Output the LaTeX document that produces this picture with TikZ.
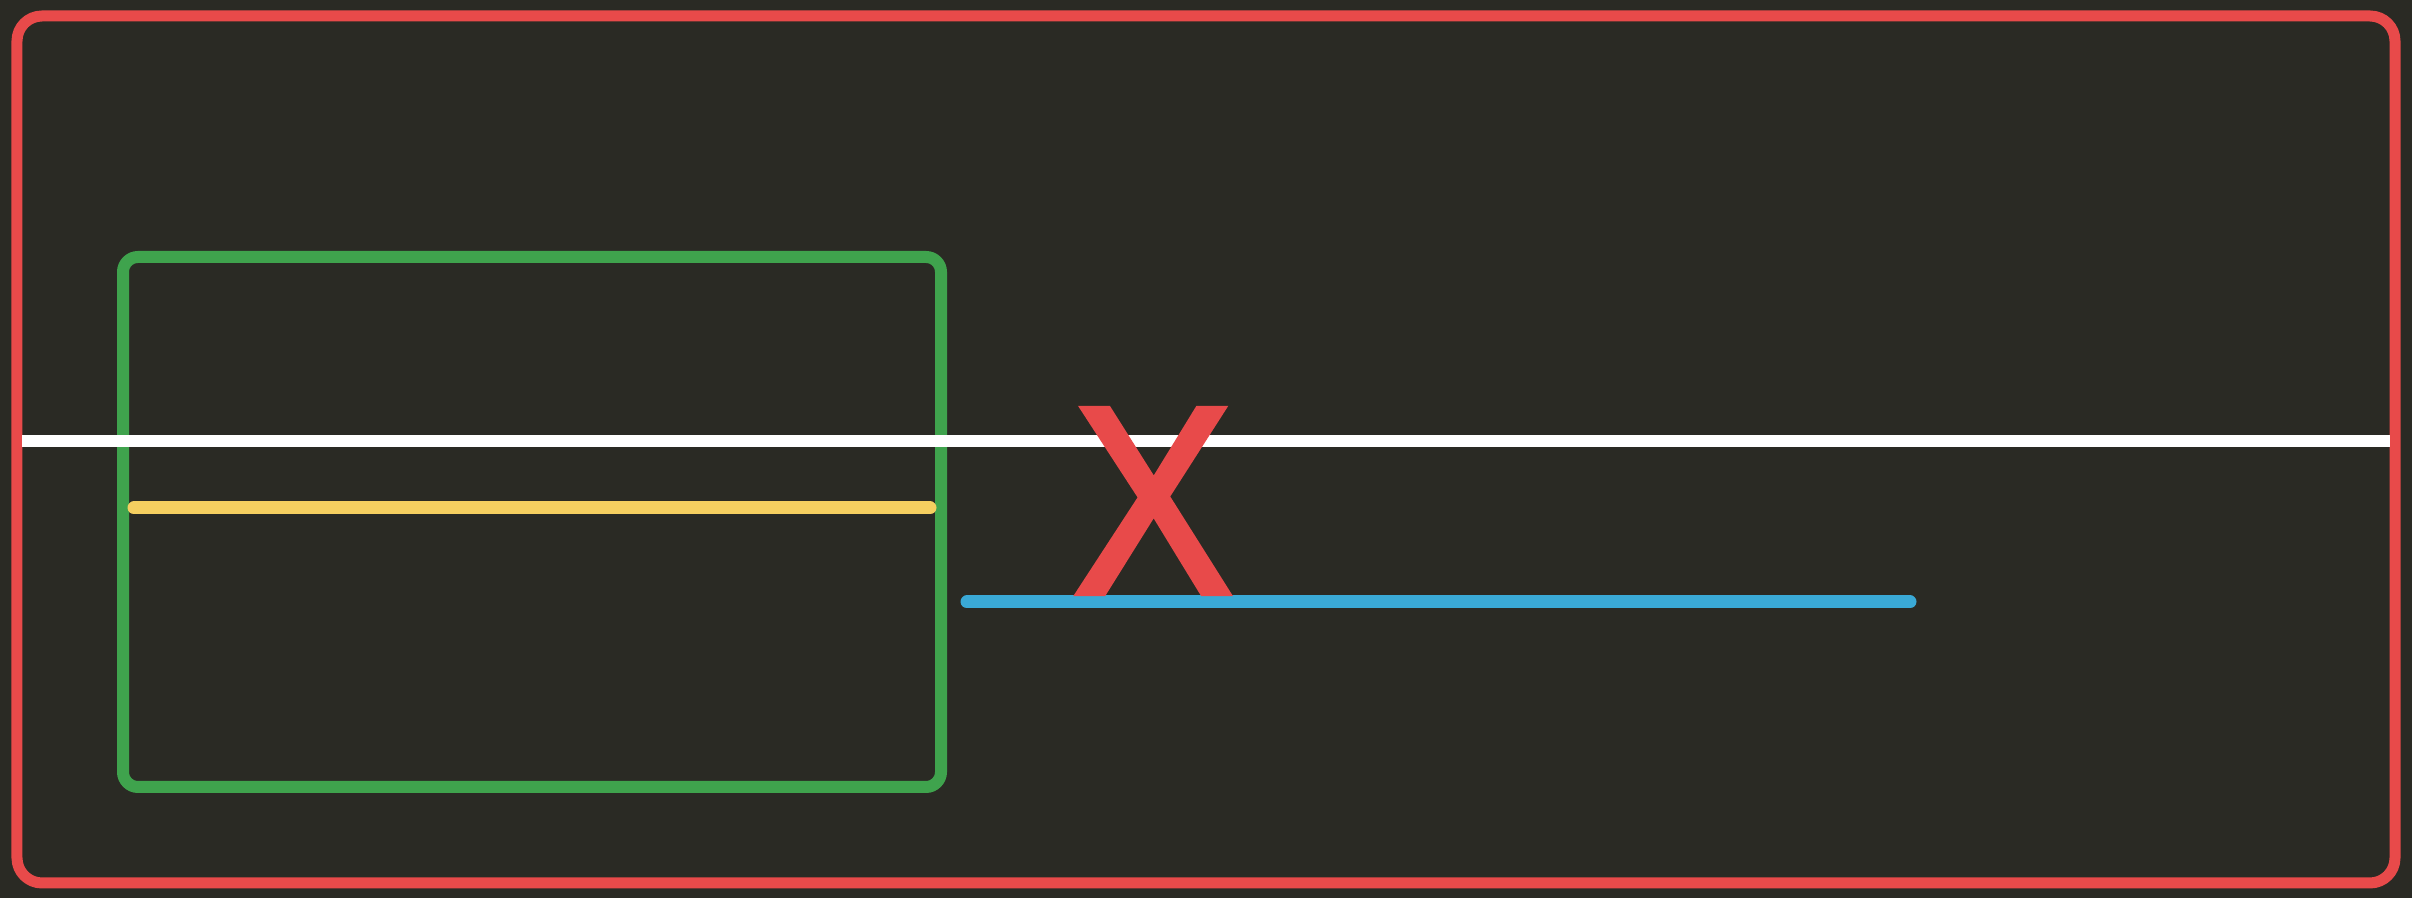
\documentclass[tikz,border=0pt]{standalone}
\usepackage{fontspec}
\setmainfont{Liberation Sans}
\newfontfamily\crossfont[FakeBold=2.5]{Liberation Sans}
\definecolor{bgDark}{HTML}{2A2A24}
\definecolor{frameRed}{HTML}{E84A4A}
\definecolor{boxGreen}{HTML}{3FA34D}
\definecolor{lineYellow}{HTML}{F5CF60}
\definecolor{lineBlue}{HTML}{3AA9D6}

\begin{document}
\begin{tikzpicture}
[frameDecorate/.style={draw=frameRed,line width=0.11cm,rounded corners=0.25cm},%
  boxDecorate/.style={draw=boxGreen,line width=0.12cm,rounded corners=0.15cm},%
  levelDecorate/.style={line width=0.12cm,line cap=butt},%
  barDecorate/.style={line width=0.13cm,line cap=round},%
  crossDecorate/.style={text=frameRed,inner sep=0pt,font=\crossfont\fontsize{76}{76}\selectfont,xscale=0.89}]
%% background
\fill[bgDark] (0,0) rectangle (24.12,8.98);
\useasboundingbox (0,0) rectangle (24.12,8.98);
%% points
\foreach \pointname/\x/\y in {frameA/0.17/8.82, frameB/23.95/0.15,
  boxA/1.23/6.41, boxB/9.41/1.11,
  levelA/0.22/4.57, levelB/23.90/4.57,
  yellowA/1.34/3.90, yellowB/9.30/3.90,
  blueA/9.67/2.96, blueB/19.10/2.96}
{
  \coordinate (\pointname) at (\x,\y);
}
%% frame and box
\draw[frameDecorate] (frameA) rectangle (frameB);
\draw[boxDecorate] (boxA) rectangle (boxB);
%% lines
\draw[levelDecorate,white] (levelA) -- (levelB);
\draw[barDecorate,lineYellow] (yellowA) -- (yellowB);
\draw[barDecorate,lineBlue] (blueA) -- (blueB);
%% cross
\node (cross) at (11.53,3.97) [crossDecorate] {X};
\end{tikzpicture}
\end{document}
